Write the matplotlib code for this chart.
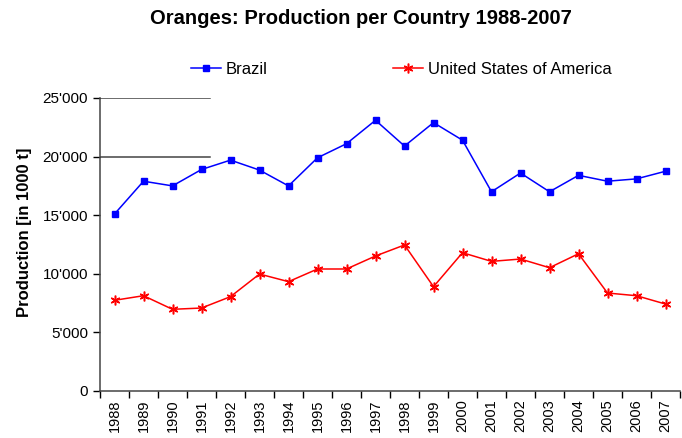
import matplotlib.pyplot as plt
from matplotlib.ticker import FuncFormatter, FixedLocator

plt.rcParams["font.family"] = ["Liberation Sans", "DejaVu Sans"]

years = [str(y) for y in range(1988, 2008)]
brazil = [15100, 17900, 17500, 18900, 19700, 18850, 17500, 19900, 21100, 23100,
          20900, 22900, 21400, 17000, 18600, 17000, 18400, 17900, 18100, 18750]
usa = [7740, 8130, 6970, 7080, 8050, 9980, 9330, 10410, 10410, 11520,
       12460, 8900, 11800, 11060, 11260, 10520, 11710, 8360, 8130, 7420]


def thousands(v, pos):
    return "{:,.0f}".format(v).replace(",", "'")


fig = plt.figure(figsize=(6.82, 4.38), dpi=100)
ax = fig.add_axes([100 / 682, 47 / 438, 580 / 682, 293 / 438])

x = list(range(len(years)))
ax.plot(x, brazil, color="#0000ff", lw=1.1, marker="s", ms=4.5,
        label="Brazil")
ax.plot(x, usa, color="#ff0000", lw=1.1, marker=(6, 2, 0), ms=7, mew=1.1,
        label="United States of America")

# the odd partial gridlines of the original
for g in (20000, 25000):
    ax.plot([-0.5, 3.3], [g, g], color="#444444", lw=1.1, zorder=0)

ax.set_xlim(-0.5, len(years) - 0.5)
ax.set_ylim(0, 25000)
ax.set_yticks(range(0, 25001, 5000))
ax.yaxis.set_major_formatter(FuncFormatter(thousands))

ax.set_xticks(x)
ax.set_xticklabels(years, rotation=90)
ax.xaxis.set_minor_locator(FixedLocator([i - 0.5 for i in range(len(years) + 1)]))
ax.tick_params(axis="x", which="major", length=0, labelsize=10.5, pad=6)
ax.tick_params(axis="x", which="minor", length=5, width=1, direction="out")
ax.tick_params(axis="y", length=5, width=1, labelsize=11, direction="out")

for s in ("top", "right"):
    ax.spines[s].set_visible(False)
for s in ("left", "bottom"):
    ax.spines[s].set_color("#444444")
    ax.spines[s].set_linewidth(1.1)

ax.set_ylabel("Production [in 1000 t]", fontsize=12, fontweight="bold",
              va="center")
ax.yaxis.set_label_coords(-0.13, 0.54)
fig.text(0.529, 0.958, "Oranges: Production per Country 1988-2007",
         ha="center", va="center", fontsize=14.5, fontweight="bold")

fig.legend(loc="center", bbox_to_anchor=(0.588, 0.842), ncol=2, frameon=False,
           fontsize=12, handlelength=1.8, handletextpad=0.3, columnspacing=7.5)

fig.savefig("out.png", dpi=100)
